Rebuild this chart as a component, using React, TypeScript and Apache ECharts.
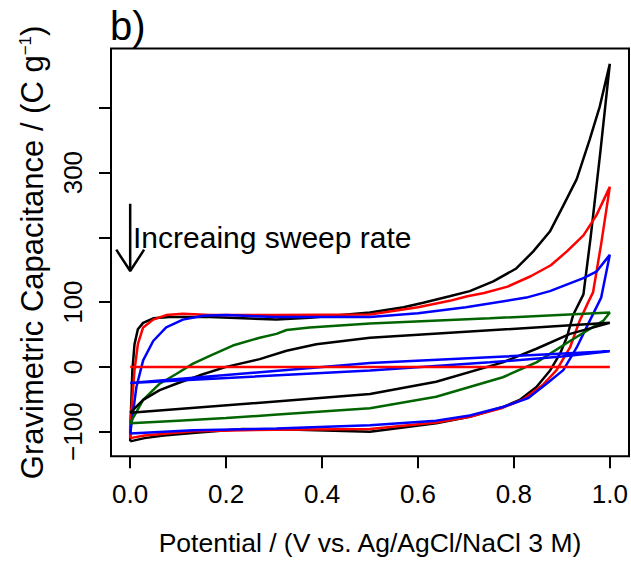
import React, { useEffect, useRef } from "react";
import * as echarts from "echarts";

// ---- data (Potential V, Capacitance C/g) ----
const X_TICKS = [0, 0.2, 0.4, 0.6, 0.8, 1.0];
const Y_TICKS = [-100, 0, 100, 200, 300, 400];
const Y_LABELS = [-100, 0, 100, 300];

const blackLarge: number[][] = [
  [0, -115], [0.03, -110], [0.07, -106], [0.13, -102], [0.235, -96], [0.35, -97], [0.5, -100],
  [0.638, -87], [0.708, -77], [0.777, -62], [0.812, -51], [0.847, -31], [0.875, -6], [0.896, 20],
  [0.91, 45], [0.924, 81], [0.945, 112], [0.96, 200], [0.98, 330], [1.0, 468],
  [0.979, 402], [0.958, 351], [0.931, 290], [0.903, 249], [0.875, 209], [0.84, 178], [0.805, 152],
  [0.757, 132], [0.708, 117], [0.666, 109], [0.611, 99], [0.57, 92], [0.5, 84], [0.374, 76],
  [0.305, 73], [0.235, 75], [0.166, 77], [0.082, 77], [0.048, 75], [0.027, 68], [0.016, 58],
  [0.009, 35], [0.0046, -5], [0.001, -82], [0, -115],
];

const redLarge: number[][] = [
  [0, -110], [0.03, -106], [0.131, -99.5], [0.3, -97], [0.5, -96], [0.638, -86], [0.708, -77],
  [0.777, -63], [0.82, -50], [0.86, -28], [0.889, -5], [0.917, 30], [0.937, 71], [0.955, 100],
  [0.965, 115], [0.982, 190], [1.0, 278],
  [0.972, 234], [0.945, 203], [0.91, 178], [0.877, 157], [0.835, 140], [0.787, 124], [0.738, 114],
  [0.703, 109], [0.666, 102], [0.6, 92], [0.5, 81], [0.3, 80], [0.166, 80], [0.11, 82], [0.075, 80],
  [0.048, 73], [0.027, 61], [0.016, 35], [0.009, -5], [0, -92], [0, -110],
];

const blueLarge: number[][] = [
  [0, -103], [0.131, -98], [0.305, -95], [0.5, -90], [0.638, -83], [0.708, -75], [0.777, -62],
  [0.83, -48], [0.87, -25], [0.903, -5], [0.931, 30], [0.958, 71], [0.982, 107], [1.0, 173],
  [0.972, 147], [0.945, 137], [0.91, 127], [0.875, 117], [0.826, 107], [0.7, 92], [0.6, 83],
  [0.5, 77], [0.305, 77], [0.2, 80], [0.152, 79], [0.11, 73], [0.075, 61], [0.048, 40],
  [0.027, 10], [0.013, -31], [0, -103],
];

const greenLoop: number[][] = [
  [0, -87], [0.1, -83], [0.2, -79], [0.3, -74], [0.4, -69], [0.5, -64], [0.638, -46], [0.777, -16],
  [0.847, 7], [0.917, 40], [0.986, 71], [1.0, 84],
  [0.75, 75], [0.5, 67], [0.374, 61], [0.326, 57], [0.305, 51], [0.27, 45], [0.214, 33],
  [0.166, 17], [0.131, 5], [0.096, -11], [0.0615, -26], [0.027, -51], [0, -87],
];

const blackSmall: number[][] = [
  [0, -71], [0.5, -42], [0.638, -23], [0.777, 7], [0.847, 28], [0.917, 51], [1.0, 68],
  [0.5, 45], [0.444, 40], [0.388, 35], [0.326, 25], [0.27, 12], [0.2, 0], [0.145, -13],
  [0.096, -26], [0.0615, -36], [0.027, -51], [0, -71],
];

const blueSmall: number[][] = [
  [0, -25], [0.5, -5.5], [0.75, 7], [0.9, 16], [1.0, 24],
  [0.5, 6], [0, -25],
];

const redFlat: number[][] = [[0, 0], [1.0, 0]];

const arrowShaft: number[][] = [[0, 252], [0, 150]];
const arrowHead: number[][] = [[-0.029, 181], [0, 148], [0.029, 181]];

const FONT = "Liberation Sans, Arial, Helvetica, sans-serif";

function lineSeries(data: number[][], color: string, width = 2.5) {
  return {
    type: "line",
    data,
    showSymbol: false,
    symbol: "none",
    smooth: false,
    silent: true,
    lineStyle: { color, width },
    z: 3,
  };
}

export default function App() {
  const ref = useRef<HTMLDivElement>(null);
  useEffect(() => {
    if (!ref.current) return;
    const chart = echarts.init(ref.current, undefined, { renderer: "svg" });
    const option: any = {
      animation: false,
      backgroundColor: "#fff",
      grid: {
        left: 111,
        right: 2,
        top: 48.5,
        bottom: 101,
        show: true,
        borderColor: "#000",
        borderWidth: 2,
        backgroundColor: "transparent",
      },
      xAxis: {
        type: "value",
        min: -0.04,
        max: 1.04,
        axisLine: { show: false, onZero: false },
        splitLine: { show: false },
        axisTick: {
          show: true,
          inside: false,
          customValues: X_TICKS,
          length: 12,
          lineStyle: { color: "#000", width: 2 },
        },
        axisLabel: {
          customValues: X_TICKS,
          formatter: (v: number) => v.toFixed(1),
          fontSize: 26,
          color: "#000",
          fontFamily: FONT,
          margin: 24.5,
        },
        name: "Potential / (V vs. Ag/AgCl/NaCl 3 M)",
        nameLocation: "middle",
        nameGap: 73,
        nameTextStyle: { fontSize: 26.5, lineHeight: 26.5, color: "#000", fontFamily: FONT },
      },
      yAxis: {
        type: "value",
        min: -138,
        max: 491.7,
        axisLine: { show: false, onZero: false },
        splitLine: { show: false },
        axisTick: {
          show: true,
          inside: false,
          customValues: Y_TICKS,
          length: 12,
          lineStyle: { color: "#000", width: 2 },
        },
        axisLabel: {
          customValues: Y_LABELS,
          rotate: 90,
          formatter: (v: number) => (v < 0 ? "\u2212" + Math.abs(v) : String(v)),
          fontSize: 26,
          color: "#000",
          fontFamily: FONT,
          margin: 25.5,
        },
        name: "Gravimetric Capacitance / (C g{sup|\u22121})",
        nameLocation: "middle",
        nameRotate: 90,
        nameGap: 63,
        nameTextStyle: {
          fontSize: 31,
          color: "#000",
          fontFamily: FONT,
          lineHeight: 31,
          rich: {
            sup: { fontSize: 17, fontFamily: FONT, color: "#000", verticalAlign: "top", lineHeight: 17 },
          },
        },
      },
      series: [
        lineSeries(blackLarge, "#000000"),
        lineSeries(redLarge, "#ff0000"),
        lineSeries(blueLarge, "#0000ff"),
        lineSeries(greenLoop, "#006400"),
        lineSeries(blackSmall, "#000000"),
        lineSeries(blueSmall, "#0000ff"),
        lineSeries(redFlat, "#ff0000"),
        lineSeries(arrowShaft, "#000000", 2.5),
        lineSeries(arrowHead, "#000000", 2.5),
      ],
      graphic: [
        {
          type: "text",
          left: 110,
          top: 6,
          style: { text: "b)", fontSize: 40, fontFamily: FONT, fill: "#000" },
          z: 10,
        },
        {
          type: "text",
          x: 133,
          y: 237.5,
          style: {
            text: "Increaing sweep rate",
            fontSize: 30,
            fontFamily: FONT,
            fill: "#000",
            verticalAlign: "middle",
            align: "left",
          },
          z: 10,
        },
      ],
    };
    chart.setOption(option);
    return () => chart.dispose();
  }, []);
  return (
    <div
      ref={ref}
      style={{ position: "fixed", left: 0, top: 0, width: 631, height: 561 }}
    />
  );
}
